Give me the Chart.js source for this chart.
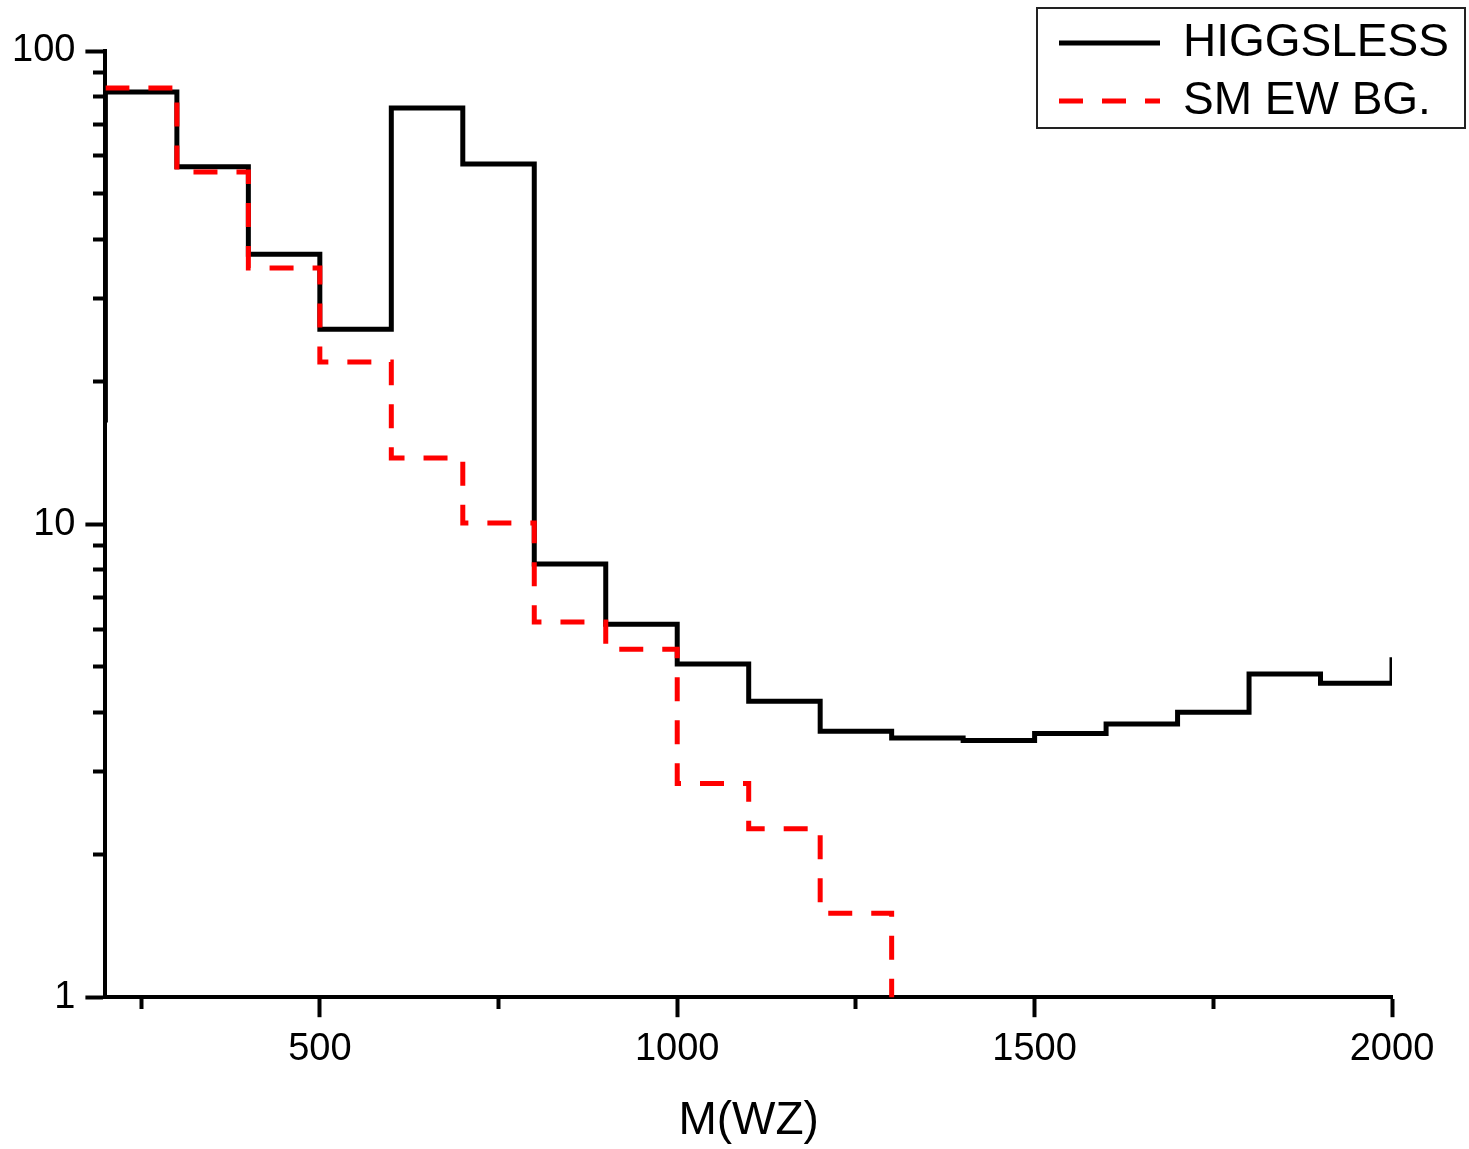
<!DOCTYPE html>
<html>
<head>
<meta charset="utf-8">
<title>M(WZ) distribution</title>
<script src="https://cdn.jsdelivr.net/npm/chart.js@4.4.0/dist/chart.umd.min.js"></script>
<style>
  html, body { margin: 0; padding: 0; background: #fff; }
  #wrap { width: 1469px; height: 1149px; }
</style>
</head>
<body>
<div id="wrap"><canvas id="mwz"></canvas></div>
<script>
// bin low edges, each value holds until the next edge
var higgsEdges = [100, 200, 300, 400, 500, 600, 700, 800, 900, 1000, 1100, 1200, 1300, 1400, 1500, 1600, 1700, 1800, 1900, 2000];
var higgsless  = [16.6, 81.9, 56.9, 37.2, 25.8, 75.8, 57.7, 8.23, 6.14, 5.06, 4.22, 3.65, 3.53, 3.49, 3.61, 3.78, 4.00, 4.82, 4.61, 5.23];

var bgEdges = [200, 300, 400, 500, 600, 700, 800, 900, 1000, 1100, 1200, 1300];
var smBg    = [83.5, 55.5, 34.8, 22.0, 13.8, 10.05, 6.21, 5.44, 2.83, 2.27, 1.505, 0.6];

var xMajor = [500, 1000, 1500, 2000];
var xMinor = [250, 750, 1250, 1750];
var yMajor = [1, 10, 100];
var yMinor = [2, 3, 4, 5, 6, 7, 8, 9, 20, 30, 40, 50, 60, 70, 80, 90];

Chart.defaults.font.family = "'Liberation Sans', Arial, sans-serif";
Chart.defaults.color = '#000';

function pts(edges, vals) {
    return edges.map(function (e, i) { return { x: e, y: vals[i] }; });
}
function setTicks(list) {
    return function (axis) {
        axis.ticks = list.map(function (v) { return { value: v }; });
    };
}

// legend sits in the top right corner with a thin frame around it
var legendBox = { left: 1037, top: 8, width: 428, height: 120 };
var legendFrame = {
    id: 'legendFrame',
    afterLayout: function (chart) {
        var lg = chart.legend;
        lg.left = legendBox.left + 10;
        lg.top = legendBox.top;
        lg.width = legendBox.width - 10;
        lg.height = legendBox.height + 40;
        lg.right = lg.left + lg.width;
        lg.bottom = lg.top + lg.height;
    },
    afterDraw: function (chart) {
        var ctx = chart.ctx;
        ctx.save();
        ctx.lineWidth = 2;
        ctx.strokeStyle = '#222';
        ctx.strokeRect(legendBox.left, legendBox.top, legendBox.width, legendBox.height);
        ctx.restore();
    }
};

var ctx = document.getElementById('mwz');
var myChart = new Chart(ctx, {
    type: 'line',
    data: {
        datasets: [
            {
                label: 'HIGGSLESS',
                data: pts(higgsEdges, higgsless),
                borderColor: '#000000',
                borderWidth: 5,
                stepped: true,
                pointRadius: 0,
                fill: false,
                borderJoinStyle: 'miter',
                order: 1
            },
            {
                label: 'SM EW BG.',
                data: pts(bgEdges, smBg),
                borderColor: '#ff0000',
                borderWidth: 5,
                borderDash: [24, 19],
                stepped: true,
                pointRadius: 0,
                fill: false,
                borderJoinStyle: 'miter',
                order: 0
            }
        ]
    },
    options: {
        responsive: true,
        maintainAspectRatio: false,
        animation: false,
        devicePixelRatio: 1,
        layout: { padding: { left: 2, right: 77, top: 51, bottom: 0 } },
        plugins: {
            tooltip: { enabled: false },
            legend: {
                position: 'chartArea',
                fullSize: false,
                align: 'start',
                labels: {
                    usePointStyle: true,
                    pointStyleWidth: 101,
                    padding: 12,
                    color: '#000',
                    font: { size: 46 },
                    sort: function (a, b) { return a.datasetIndex - b.datasetIndex; },
                    generateLabels: function (chart) {
                        var items = Chart.defaults.plugins.legend.labels.generateLabels(chart);
                        items.forEach(function (it) {
                            var ds = chart.data.datasets[it.datasetIndex];
                            it.lineDash = ds.borderDash || [];
                            it.lineWidth = ds.borderWidth;
                            it.strokeStyle = ds.borderColor;
                            it.pointStyle = 'line';
                        });
                        return items;
                    }
                }
            }
        },
        scales: {
            x: {
                type: 'linear',
                position: 'bottom',
                min: 200,
                max: 2000,
                afterBuildTicks: setTicks(xMajor),
                ticks: {
                    autoSkip: false,
                    maxRotation: 0,
                    padding: 10,
                    color: '#000',
                    font: { size: 38 },
                    callback: function (v) { return String(v); }
                },
                grid: { drawOnChartArea: false, tickLength: 20, tickWidth: 4, tickColor: '#000' },
                border: { display: true, color: '#000', width: 4 },
                title: {
                    display: true,
                    text: 'M(WZ)',
                    color: '#000',
                    font: { size: 46 },
                    padding: { top: 11, bottom: 0 }
                }
            },
            xMinor: {
                axis: 'x',
                type: 'linear',
                display: true,
                position: { y: 1 },
                min: 200,
                max: 2000,
                afterBuildTicks: setTicks(xMinor),
                ticks: { display: false },
                grid: { drawOnChartArea: false, tickLength: 12, tickWidth: 4, tickColor: '#000' },
                border: { display: false }
            },
            y: {
                type: 'logarithmic',
                position: 'left',
                min: 1,
                max: 100,
                afterBuildTicks: setTicks(yMajor),
                ticks: {
                    autoSkip: false,
                    padding: 10,
                    color: '#000',
                    font: { size: 38 },
                    callback: function (v) { return String(v); }
                },
                grid: { drawOnChartArea: false, tickLength: 20, tickWidth: 4, tickColor: '#000' },
                border: { display: true, color: '#000', width: 4 }
            },
            yMinor: {
                axis: 'y',
                type: 'logarithmic',
                display: true,
                position: { x: 200 },
                min: 1,
                max: 100,
                afterBuildTicks: setTicks(yMinor),
                ticks: { display: false },
                grid: { drawOnChartArea: false, tickLength: 12, tickWidth: 4, tickColor: '#000' },
                border: { display: false }
            }
        }
    },
    plugins: [legendFrame]
});
</script>
</body>
</html>
